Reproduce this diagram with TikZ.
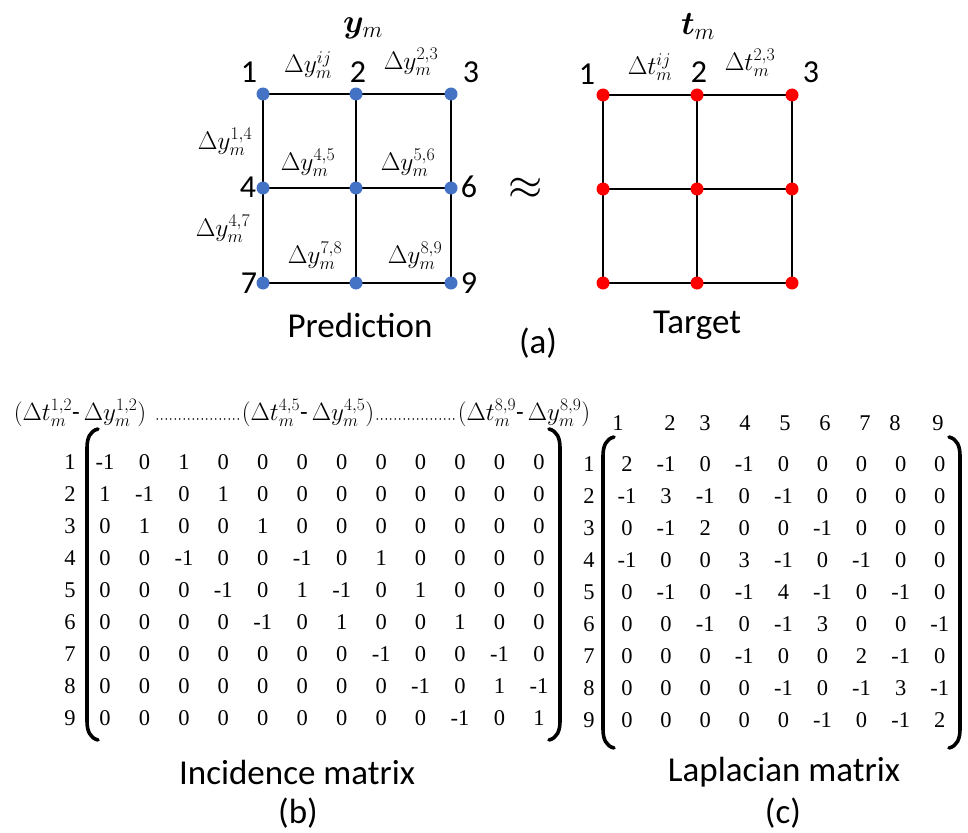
\RequirePackage{fix-cm}
\documentclass[tikz,border=0pt]{standalone}
\usepackage{amsmath,bm}
\usepackage{fontspec}
\setmainfont{Carlito}
\newfontfamily\tnr{Liberation Serif}
\usetikzlibrary{backgrounds}
\definecolor{dotblue}{RGB}{68,114,196}
\begin{document}
\begin{tikzpicture}[x=1pt,y=-1pt,
  every node/.style={inner sep=0pt, outer sep=0pt},
  gline/.style={line width=2pt, black},
  bdot/.style={circle, fill=dotblue, minimum size=13pt},
  rdot/.style={circle, fill=red, minimum size=13pt},
  num/.style={font=\fontsize{32}{38}\selectfont},
  dlab/.style={font=\fontsize{25.5}{30}\selectfont},
  hdr/.style={font=\fontsize{25}{30}\selectfont},
  ttl/.style={font=\fontsize{33}{40}\selectfont},
  capt/.style={font=\fontsize{35}{42}\selectfont},
  ent/.style={font=\tnr\fontsize{22.5}{26}\selectfont},
  brk/.style={line width=3.6pt, line cap=round},
  dotline/.style={line width=1.6pt, line cap=round, dash pattern=on 0pt off 4.5pt}]
\useasboundingbox (0,0) rectangle (968,832);

% ---------- (a) prediction grid ----------
\foreach \n/\x/\y in {1/263/94, 2/356/94, 3/451/94, 4/263/188, 5/356/188, 6/451/188, 7/263/283, 8/356/283, 9/451/283}
  \node[bdot] (p\n) at (\x,\y) {};
\foreach \n/\x/\y in {1/603/95, 2/697/95, 3/792/95, 4/603/189, 5/697/189, 6/792/189, 7/603/283, 8/697/283, 9/792/283}
  \node[rdot] (t\n) at (\x,\y) {};
\begin{scope}[on background layer]
  \foreach \a/\b in {1/2,2/3,4/5,5/6,7/8,8/9,1/4,4/7,2/5,5/8,3/6,6/9} {
    \draw[gline] (p\a.center) -- (p\b.center);
    \draw[gline] (t\a.center) -- (t\b.center);
  }
\end{scope}

% titles
\node[ttl] (ym) at (363,28) {$\bm{y}_m$};
\node[ttl] (tm) at (698,27) {$\bm{t}_m$};

% node numbers
\node[num] (n1) at (249,72) {1};
\node[num] (n2) at (358,72) {2};
\node[num] (n3) at (471,72) {3};
\node[num] (n4) at (248,187) {4};
\node[num] (n6) at (469,187) {6};
\node[num] (n7) at (249,283) {7};
\node[num] (n9) at (469,283) {9};
\node[num] (m1) at (587,74) {1};
\node[num] (m2) at (699,72) {2};
\node[num] (m3) at (811,72) {3};

% edge labels
\node[dlab] (d12) at (308,65) {$\Delta y_m^{ij}$};
\node[dlab] (d23) at (411,62) {$\Delta y_m^{2,3}$};
\node[dlab] (d14) at (225,142) {$\Delta y_m^{1,4}$};
\node[dlab] (d45) at (308,163) {$\Delta y_m^{4,5}$};
\node[dlab] (d56) at (408,163) {$\Delta y_m^{5,6}$};
\node[dlab] (d47) at (223,229) {$\Delta y_m^{4,7}$};
\node[dlab] (d78) at (315,256) {$\Delta y_m^{7,8}$};
\node[dlab] (d89) at (415,256) {$\Delta y_m^{8,9}$};
\node[dlab] (e12) at (650,67) {$\Delta t_m^{ij}$};
\node[dlab] (e23) at (750,63) {$\Delta t_m^{2,3}$};

\node[font=\fontsize{44}{50}\selectfont] (apx) at (526,189) {$\approx$};

\node[capt] (pred) at (360,325) {Prediction};
\node[capt] (targ) at (697,325) {Target};
\node[capt] (la) at (538,343) {(a)};

% ---------- (b) incidence matrix ----------
\node[hdr, anchor=base] (h1) at (80,420) {$(\Delta t_m^{1,2}$-\,$\Delta y_m^{1,2})$};
\node[hdr, anchor=base] (h2) at (308,420) {$(\Delta t_m^{4,5}$-\,$\Delta y_m^{4,5})$};
\node[hdr, anchor=base] (h3) at (524,420) {$(\Delta t_m^{8,9}$-\,$\Delta y_m^{8,9})$};
\draw[dotline] ([xshift=11pt,yshift=1pt]h1.base east) -- ([xshift=-1pt,yshift=1pt]h2.base west);
\draw[dotline] ([xshift=3pt,yshift=1pt]h2.base east) -- ([xshift=-1pt,yshift=1pt]h3.base west);

\foreach \row [count=\r] in {
  {-1,0,1,0,0,0,0,0,0,0,0,0},
  {1,-1,0,1,0,0,0,0,0,0,0,0},
  {0,1,0,0,1,0,0,0,0,0,0,0},
  {0,0,-1,0,0,-1,0,1,0,0,0,0},
  {0,0,0,-1,0,1,-1,0,1,0,0,0},
  {0,0,0,0,-1,0,1,0,0,1,0,0},
  {0,0,0,0,0,0,0,-1,0,0,-1,0},
  {0,0,0,0,0,0,0,0,-1,0,1,-1},
  {0,0,0,0,0,0,0,0,0,-1,0,1}} {
  \node[ent] (IR\r) at (70,{462+32*(\r-1)}) {\r};
  \foreach \v [count=\c] in \row {
    \node[ent] (I-\r-\c) at ({105+39.45*(\c-1)},{462+32*(\r-1)}) {\v};
  }
}
\draw[brk] (98,429) .. controls (90,431) and (87,438) .. (87,448) -- (87,721) .. controls (87,731) and (90,738) .. (98,740);
\draw[brk] (549,429) .. controls (557,431) and (560,438) .. (560,448) -- (560,721) .. controls (560,731) and (557,738) .. (549,740);

\node[capt] (inc) at (297,772) {Incidence matrix};
\node[capt] (lb) at (298,813) {(b)};

% ---------- (c) Laplacian matrix ----------
\foreach \x [count=\c] in {618,670,705,745,785,825,865,895,938}
  \node[ent] (LH\c) at (\x,423) {\c};
\foreach \row [count=\r] in {
  {2,-1,0,-1,0,0,0,0,0},
  {-1,3,-1,0,-1,0,0,0,0},
  {0,-1,2,0,0,-1,0,0,0},
  {-1,0,0,3,-1,0,-1,0,0},
  {0,-1,0,-1,4,-1,0,-1,0},
  {0,0,-1,0,-1,3,0,0,-1},
  {0,0,0,-1,0,0,2,-1,0},
  {0,0,0,0,-1,0,-1,3,-1},
  {0,0,0,0,0,-1,0,-1,2}} {
  \node[ent] (LR\r) at (589,{464+32*(\r-1)}) {\r};
  \foreach \v [count=\c] in \row {
    \node[ent] (L-\r-\c) at ({627+39.1*(\c-1)},{464+32*(\r-1)}) {\v};
  }
}
\draw[brk] (614,437) .. controls (606,439) and (603,446) .. (603,456) -- (603,729) .. controls (603,739) and (606,746) .. (614,748);
\draw[brk] (949,437) .. controls (957,439) and (960,446) .. (960,456) -- (960,729) .. controls (960,739) and (957,746) .. (949,748);

\node[capt] (lap) at (784,772) {Laplacian matrix};
\node[capt] (lc) at (783,813) {(c)};
\end{tikzpicture}
\end{document}
